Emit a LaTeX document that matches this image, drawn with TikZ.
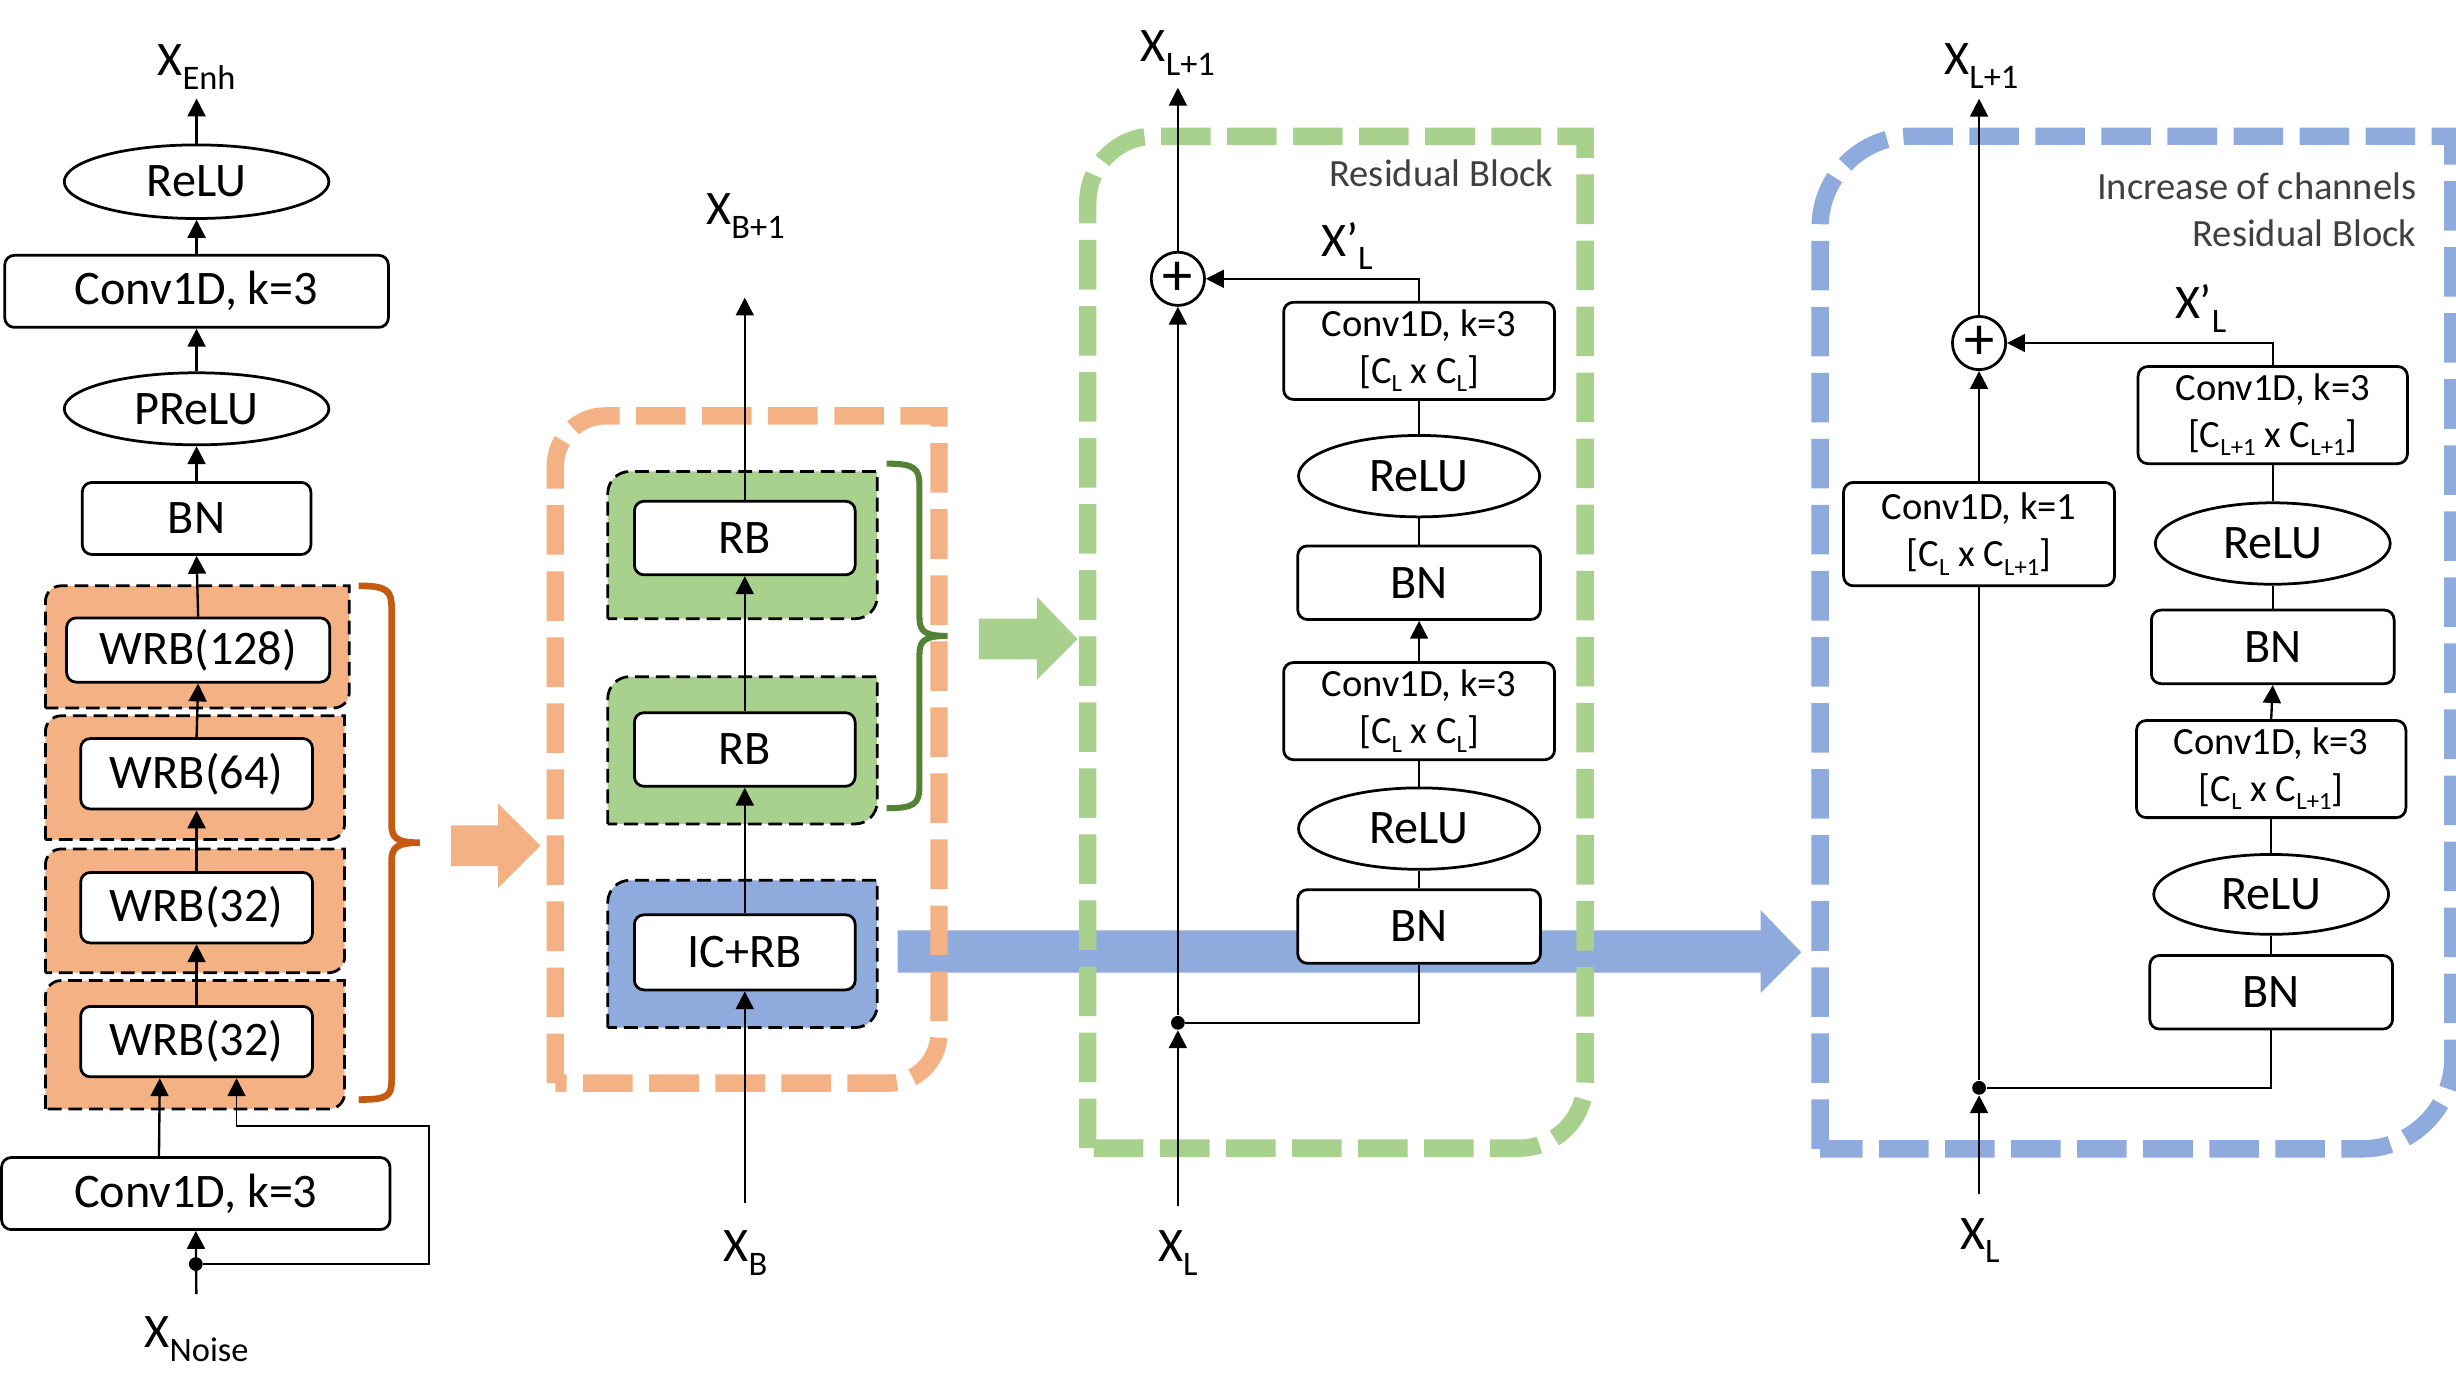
\documentclass[tikz,border=0pt]{standalone}
\usepackage{fontspec}
\setmainfont{Carlito}
\usetikzlibrary{arrows.meta,shapes.geometric}

\definecolor{orfill}{HTML}{F4B183}
\definecolor{orbrace}{HTML}{C55A11}
\definecolor{grfill}{HTML}{A9D18E}
\definecolor{grbrace}{HTML}{548235}
\definecolor{blfill}{HTML}{8FAADC}
\definecolor{txgray}{HTML}{404040}

% lowered subscripts as in the figure
\newcommand{\lo}[1]{\raisebox{-5pt}{\fontsize{12.5}{12.5}\selectfont #1}}
\newcommand{\lc}[1]{\raisebox{-3pt}{\fontsize{9}{9}\selectfont #1}}
% box with rounded top-left and bottom-right corners
\newcommand{\cornerbox}[6]{%
  \path[#1] (#2,#5) -- (#2,{#3+#6})
    .. controls (#2,{#3+0.45*#6}) and ({#2+0.45*#6},#3) .. ({#2+#6},#3)
    -- (#4,#3) -- (#4,{#5-#6})
    .. controls (#4,{#5-0.45*#6}) and ({#4-0.45*#6},#5) .. ({#4-#6},#5)
    -- cycle;}

\begin{document}
\begin{tikzpicture}[
  x=0.02cm, y=-0.02cm,
  box/.style={draw, fill=white, rounded corners=3.5pt, line width=1pt, inner sep=0pt, font=\fontsize{17.5}{21}\selectfont},
  convbox/.style={box, align=center, font=\fontsize{14}{17}\selectfont},
  oval/.style={ellipse, draw, fill=white, line width=1pt, inner sep=0pt, font=\fontsize{17.5}{21}\selectfont},
  lbl/.style={inner sep=0pt, font=\fontsize{17.5}{21}\selectfont},
  note/.style={inner sep=0pt, text=txgray, font=\fontsize{14}{17}\selectfont},
  arr/.style={-{Triangle[width=6.5pt,length=6.5pt]}, line width=0.85pt},
  wire/.style={line width=0.7pt},
  cont/.style={draw=black, dash pattern=on 5pt off 2.5pt, line width=1pt},
  frame/.style={line width=6.3pt, dash pattern=on 18pt off 6pt},
  dot/.style={circle, fill=black, inner sep=0pt, minimum size=5pt},
  sumnode/.style={circle, draw, fill=white, line width=1pt, inner sep=0pt, minimum size=0.68cm, font=\fontsize{22}{22}\selectfont}
]
  \useasboundingbox (0,0) rectangle (1568,889);

  % broad arrows between the panels
  \fill[blfill] (573,594) -- (1124,594) -- (1124,581) -- (1150,608) -- (1124,634) -- (1124,621) -- (573,621) -- cycle;
  \fill[orfill] (288,527) -- (318,527) -- (318,513) -- (345,540) -- (318,567) -- (318,553) -- (288,553) -- cycle;
  \fill[grfill] (625,395) -- (662,395) -- (662,381) -- (688,408) -- (662,434) -- (662,421) -- (625,421) -- cycle;

  % WRB groups
  \foreach \xb/\ya/\yb in {223/374/452, 220/457/536, 220/542/621, 220/626/708} {
    \cornerbox{fill=orfill, cont}{29}{\ya}{\xb}{\yb}{10}
  }

  % RB groups
  \cornerbox{fill=grfill, cont}{388}{301}{560}{395}{14}
  \cornerbox{fill=grfill, cont}{388}{432}{560}{526}{14}
  \cornerbox{fill=blfill, cont}{388}{562}{560}{656}{14}

  % dashed frames
  \cornerbox{draw=orfill, frame}{354.5}{265.5}{599.5}{691.5}{32}
  \cornerbox{draw=grfill, frame}{694.5}{87}{1012}{733}{42}
  \cornerbox{draw=blfill, frame}{1162}{87}{1566}{733.5}{58}

  % braces
  \draw[orbrace, line width=2.4pt] (229,374) .. controls (247,374) and (250,377) .. (250,388) -- (250,526)
    .. controls (250,535) and (253,538) .. (268,538) .. controls (253,538) and (250,541) .. (250,550)
    -- (250,690) .. controls (250,700) and (247,702) .. (229,702);
  \draw[grbrace, line width=2.2pt] (566,296) .. controls (584,296) and (587,299) .. (587,310) -- (587,394)
    .. controls (587,403) and (590,406) .. (605,406) .. controls (590,406) and (587,409) .. (587,418)
    -- (587,502) .. controls (587,513) and (584,516) .. (566,516);

  % left column
  \node[lbl] (xenh) at (125.5,43) {X\lo{Enh}};
  \node[oval, minimum width=3.38cm, minimum height=0.94cm] (relu1) at (125.5,116) {ReLU};
  \node[box, minimum width=4.9cm, minimum height=0.92cm] (conv1) at (125.5,186) {Conv1D, k=3};
  \node[oval, minimum width=3.38cm, minimum height=0.92cm] (prelu) at (125.5,261) {PReLU};
  \node[box, minimum width=2.92cm, minimum height=0.92cm] (bn1) at (125.5,331) {BN};
  \node[box, minimum width=3.36cm, minimum height=0.82cm] (wrb1) at (126.5,415) {WRB(128)};
  \node[box, minimum width=2.96cm, minimum height=0.9cm] (wrb2) at (125.5,494) {WRB(64)};
  \node[box, minimum width=2.96cm, minimum height=0.9cm] (wrb3) at (125.5,579.5) {WRB(32)};
  \node[box, minimum width=2.96cm, minimum height=0.9cm] (wrb4) at (125.5,665) {WRB(32)};
  \node[box, minimum width=4.96cm, minimum height=0.92cm] (conv2) at (125,762) {Conv1D, k=3};
  \node[lbl] (xnoise) at (125.5,855) {X\lo{Noise}};
  \node[dot] (split1) at (125,807) {};
  \coordinate (fb1) at (274,807);
  \coordinate (fb2) at (274,719);
  \coordinate (fb3) at (151,719);

  \foreach \a/\b in {wrb4/wrb3, wrb3/wrb2, wrb2/wrb1, wrb1/bn1, bn1/prelu, prelu/conv1, conv1/relu1}
    \draw[arr] (\a.north) -- (\b.south);
  \draw[arr, shorten >=3pt] (relu1.north) -- (xenh.south);
  \draw[arr, shorten <=8pt] (xnoise.north) -- (conv2.south);
  \draw[arr] ([xshift=-0.47cm]conv2.north) -- ([xshift=-0.47cm]wrb4.south);
  \draw[arr, wire] (split1) -- (fb1) -- (fb2) -- (fb3) -- (fb3 |- wrb4.south);

  % middle column
  \node[lbl] (xb1) at (476,138) {X\lo{B+1}};
  \coordinate (out2) at (475.5,190);
  \node[box, minimum width=2.82cm, minimum height=0.94cm] (rb1) at (475.5,343.5) {RB};
  \node[box, minimum width=2.82cm, minimum height=0.94cm] (rb2) at (475.5,478.5) {RB};
  \node[box, minimum width=2.82cm, minimum height=0.96cm] (icrb) at (475.5,608) {IC+RB};
  \coordinate (in2) at (475.5,768);
  \node[lbl] (xb) at (476,800) {X\lo{B}};

  \draw[arr] (in2) -- (icrb.south);
  \draw[arr] (icrb.north) -- (rb2.south);
  \draw[arr] (rb2.north) -- (rb1.south);
  \draw[arr] (rb1.north) -- (out2);

  % residual block
  \node[note, anchor=base east] (rbnote) at (992,119) {Residual Block};
  \node[lbl] (xl1) at (752,34) {X\lo{L+1}};
  \coordinate (out3) at (752,56);
  \node[sumnode] (add1) at (752,178) {+};
  \node[lbl] (xp1) at (860,157) {X’\lo{L}};
  \node[convbox, minimum width=3.46cm, minimum height=1.24cm] (conv3a) at (906,224) {Conv1D, k=3\\{}[C\lc{L} x C\lc{L}]};
  \node[oval, minimum width=3.08cm, minimum height=1.04cm] (relu3a) at (906,304) {ReLU};
  \node[box, minimum width=3.1cm, minimum height=0.94cm] (bn3a) at (906,372) {BN};
  \node[convbox, minimum width=3.46cm, minimum height=1.24cm] (conv3b) at (906,454) {Conv1D, k=3\\{}[C\lc{L} x C\lc{L}]};
  \node[oval, minimum width=3.08cm, minimum height=1.04cm] (relu3b) at (906,529) {ReLU};
  \node[box, minimum width=3.1cm, minimum height=0.94cm] (bn3b) at (906,591.5) {BN};
  \node[dot] (split3) at (752,653) {};
  \coordinate (in3) at (752,770);
  \node[lbl] (xl3) at (752,800) {X\lo{L}};

  \draw[wire] (bn3b.south) |- (split3);
  \draw[wire] (bn3b.north) -- (relu3b.south);
  \draw[wire] (relu3b.north) -- (conv3b.south);
  \draw[arr] (conv3b.north) -- (bn3a.south);
  \draw[wire] (bn3a.north) -- (relu3a.south);
  \draw[wire] (relu3a.north) -- (conv3a.south);
  \draw[arr, wire] (conv3a.north) |- (add1.east);
  \draw[arr] (in3) -- (split3);
  \draw[arr] (split3) -- (add1.south);
  \draw[arr, wire] (add1.north) -- (out3);

  % increase of channels residual block
  \node[note, anchor=north east, align=right] (icnote) at (1543,110) {Increase of channels\\Residual Block};
  \node[lbl] (xl2) at (1265,42) {X\lo{L+1}};
  \coordinate (out4) at (1263.5,63);
  \node[sumnode] (add2) at (1263.5,219) {+};
  \node[lbl] (xp2) at (1405,197) {X’\lo{L}};
  \node[convbox, minimum width=3.44cm, minimum height=1.24cm] (conv4a) at (1451,265) {Conv1D, k=3\\{}[C\lc{L+1} x C\lc{L+1}]};
  \node[oval, minimum width=3.0cm, minimum height=1.04cm] (relu4a) at (1451,347) {ReLU};
  \node[box, minimum width=3.1cm, minimum height=0.94cm] (bn4a) at (1451,413) {BN};
  \node[convbox, minimum width=3.44cm, minimum height=1.24cm] (conv4b) at (1450,491) {Conv1D, k=3\\{}[C\lc{L} x C\lc{L+1}]};
  \node[oval, minimum width=3.0cm, minimum height=1.02cm] (relu4b) at (1450,571) {ReLU};
  \node[box, minimum width=3.1cm, minimum height=0.94cm] (bn4b) at (1450,633.5) {BN};
  \node[convbox, minimum width=3.46cm, minimum height=1.32cm] (conv4c) at (1263.5,341) {Conv1D, k=1\\{}[C\lc{L} x C\lc{L+1}]};
  \node[dot] (split4) at (1263.5,694.5) {};
  \coordinate (in4) at (1263.5,762);
  \node[lbl] (xl4) at (1264,792) {X\lo{L}};

  \draw[wire] (bn4b.south) |- (split4);
  \draw[wire] (bn4b.north) -- (relu4b.south);
  \draw[wire] (relu4b.north) -- (conv4b.south);
  \draw[arr] (conv4b.north) -- (bn4a.south);
  \draw[wire] (bn4a.north) -- (relu4a.south);
  \draw[wire] (relu4a.north) -- (conv4a.south);
  \draw[arr, wire] (conv4a.north) |- (add2.east);
  \draw[arr] (in4) -- (split4);
  \draw[wire] (split4) -- (conv4c.south);
  \draw[arr] (conv4c.north) -- (add2.south);
  \draw[arr, wire] (add2.north) -- (out4);
\end{tikzpicture}
\end{document}
